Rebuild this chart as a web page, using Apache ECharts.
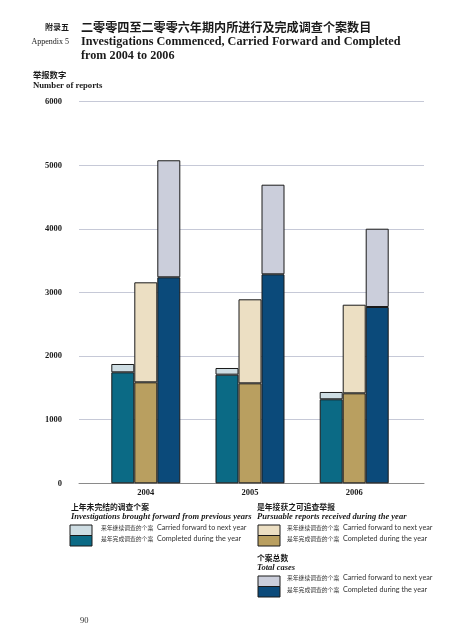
<!DOCTYPE html>
<html><head><meta charset="utf-8">
<script src="https://cdn.jsdelivr.net/npm/echarts@6/dist/echarts.min.js"></script>
<style>html,body{margin:0;padding:0;background:#fff}#c{width:453px;height:640px}</style>
</head><body><div id="c"></div>
<script>
const years = ['2004', '2005', '2006'];
const yTicks = [0, 1000, 2000, 3000, 4000, 5000, 6000];
// Investigations brought forward from previous years
const bfCompleted = [1745, 1708, 1321];
const bfCarried = [131, 105, 115];
// Pursuable reports received during the year
const prCompleted = [1588, 1572, 1415];
const prCarried = [1572, 1321, 1393];
// Total cases
const totCompleted = [3239, 3286, 2772];
const totCarried = [1840, 1409, 1231];

const SERIF = '"Liberation Serif","DejaVu Serif",serif';
const CJK = '"Noto Sans CJK SC",sans-serif';
const SANS = 'Lato,"Open Sans",sans-serif';

const chart = echarts.init(document.getElementById('c'), null, {renderer: 'canvas'});

function txt(x, y, text, o) {
  o = o || {};
  return {
    type: 'text', x: x, y: y, silent: true,
    style: {
      text: text, fill: o.fill || '#1a1a1a',
      fontSize: o.size || 10, fontFamily: o.family || SERIF,
      fontWeight: o.weight || 'normal', fontStyle: o.style || 'normal',
      textAlign: o.align || 'left', align: o.align || 'left',
      textVerticalAlign: 'middle', verticalAlign: 'middle'
    }
  };
}
function swatch(x, y, top, bottom) {
  return [
    {type: 'rect', shape: {x: x, y: y, width: 22, height: 10.5}, style: {fill: top, stroke: '#1a1a1a', lineWidth: 1}},
    {type: 'rect', shape: {x: x, y: y + 10.5, width: 22, height: 10.5}, style: {fill: bottom, stroke: '#1a1a1a', lineWidth: 1}}
  ];
}
function legendLine(x, y, cjk, en) {
  return [
    txt(x, y, cjk, {family: CJK, size: 5.8, fill: '#333'}),
    txt(x + 56, y, en, {family: SANS, size: 7.2, fill: '#333'})
  ];
}

const C = {
  bfDone: '#0b6a85', bfCarry: '#cedde3',
  prDone: '#b99f60', prCarry: '#ecdfc3',
  totDone: '#0b4a7a', totCarry: '#cbcedb'
};

const barStyle = c => ({color: c, borderColor: '#1a1a1a', borderWidth: 1});

function series(name, data, stack, color) {
  return {name: name, type: 'bar', xAxisIndex: 1, yAxisIndex: 1, stack: stack, data: data,
    barWidth: 23, barGap: '0%', itemStyle: barStyle(color), silent: true};
}

const CF_CJK = '来年继续调查的个案', CF_EN = 'Carried forward to next year';
const CD_CJK = '是年完成调查的个案', CD_EN = 'Completed during the year';

const gTop = 101.7, gBottom = 640 - 483.3;
const graphics = [
  txt(69, 27, '附录五', {family: CJK, weight: 'bold', size: 8, align: 'right'}),
  txt(81, 27, '二零零四至二零零六年期内所进行及完成调查个案数目', {family: CJK, weight: 'bold', size: 12.1}),
  txt(69, 42, 'Appendix 5', {size: 8, align: 'right'}),
  txt(81, 41.5, 'Investigations Commenced, Carried Forward and Completed', {weight: 'bold', size: 12.2}),
  txt(81, 56, 'from 2004 to 2006', {weight: 'bold', size: 12.2}),
  txt(33, 75, '举报数字', {family: CJK, weight: 'bold', size: 8.3}),
  txt(33, 86, 'Number of reports', {weight: 'bold', size: 8.7}),

  txt(71, 507, '上年未完结的调查个案', {family: CJK, weight: 'bold', size: 7.8}),
  txt(71, 517, 'Investigations brought forward from previous years', {weight: 'bold', style: 'italic', size: 8.5}),
  ...swatch(70, 525, C.bfCarry, C.bfDone),
  ...legendLine(101, 527.5, CF_CJK, CF_EN),
  ...legendLine(101, 538.5, CD_CJK, CD_EN),

  txt(257, 507, '是年接获之可追查举报', {family: CJK, weight: 'bold', size: 7.8}),
  txt(257, 517, 'Pursuable reports received during the year', {weight: 'bold', style: 'italic', size: 8.5}),
  ...swatch(258, 525, C.prCarry, C.prDone),
  ...legendLine(287, 527.5, CF_CJK, CF_EN),
  ...legendLine(287, 538.5, CD_CJK, CD_EN),

  txt(257, 558, '个案总数', {family: CJK, weight: 'bold', size: 7.8}),
  txt(257, 568, 'Total cases', {weight: 'bold', style: 'italic', size: 8.5}),
  ...swatch(258, 576, C.totCarry, C.totDone),
  ...legendLine(287, 577.5, CF_CJK, CF_EN),
  ...legendLine(287, 589.5, CD_CJK, CD_EN),

  txt(80, 621, '90', {size: 8.5, fill: '#333'})
];

chart.setOption({
  animation: false,
  grid: [
    {left: 79, right: 453 - 424, top: gTop, bottom: gBottom},
    {left: 93.7, right: 453 - 406.3, top: gTop, bottom: gBottom}
  ],
  xAxis: [
    {gridIndex: 0, type: 'value', min: 0, max: 1, show: true,
      axisLine: {show: true, onZero: false, lineStyle: {color: '#8a8a8a', width: 1}},
      axisTick: {show: false}, axisLabel: {show: false}, splitLine: {show: false}},
    {gridIndex: 1, type: 'category', data: years,
      axisLine: {show: false}, axisTick: {show: false},
      axisLabel: {margin: 5, fontFamily: SERIF, fontWeight: 'bold', fontSize: 8.5, color: '#1a1a1a'}}
  ],
  yAxis: [
    {gridIndex: 0, type: 'value', min: yTicks[0], max: yTicks[yTicks.length - 1], interval: 1000,
      axisLine: {show: false}, axisTick: {show: false},
      axisLabel: {margin: 17, fontFamily: SERIF, fontWeight: 'bold', fontSize: 8.5, color: '#1a1a1a',
        formatter: v => String(v)},
      splitLine: {show: true, lineStyle: {color: '#c6c9d7', width: 1}}},
    {gridIndex: 1, type: 'value', min: yTicks[0], max: yTicks[yTicks.length - 1], interval: 1000, show: false}
  ],
  series: [
    series('bfCompleted', bfCompleted, 'bf', C.bfDone),
    series('bfCarried', bfCarried, 'bf', C.bfCarry),
    series('prCompleted', prCompleted, 'pr', C.prDone),
    series('prCarried', prCarried, 'pr', C.prCarry),
    series('totCompleted', totCompleted, 'tot', C.totDone),
    series('totCarried', totCarried, 'tot', C.totCarry)
  ],
  graphic: graphics
});
</script></body></html>
